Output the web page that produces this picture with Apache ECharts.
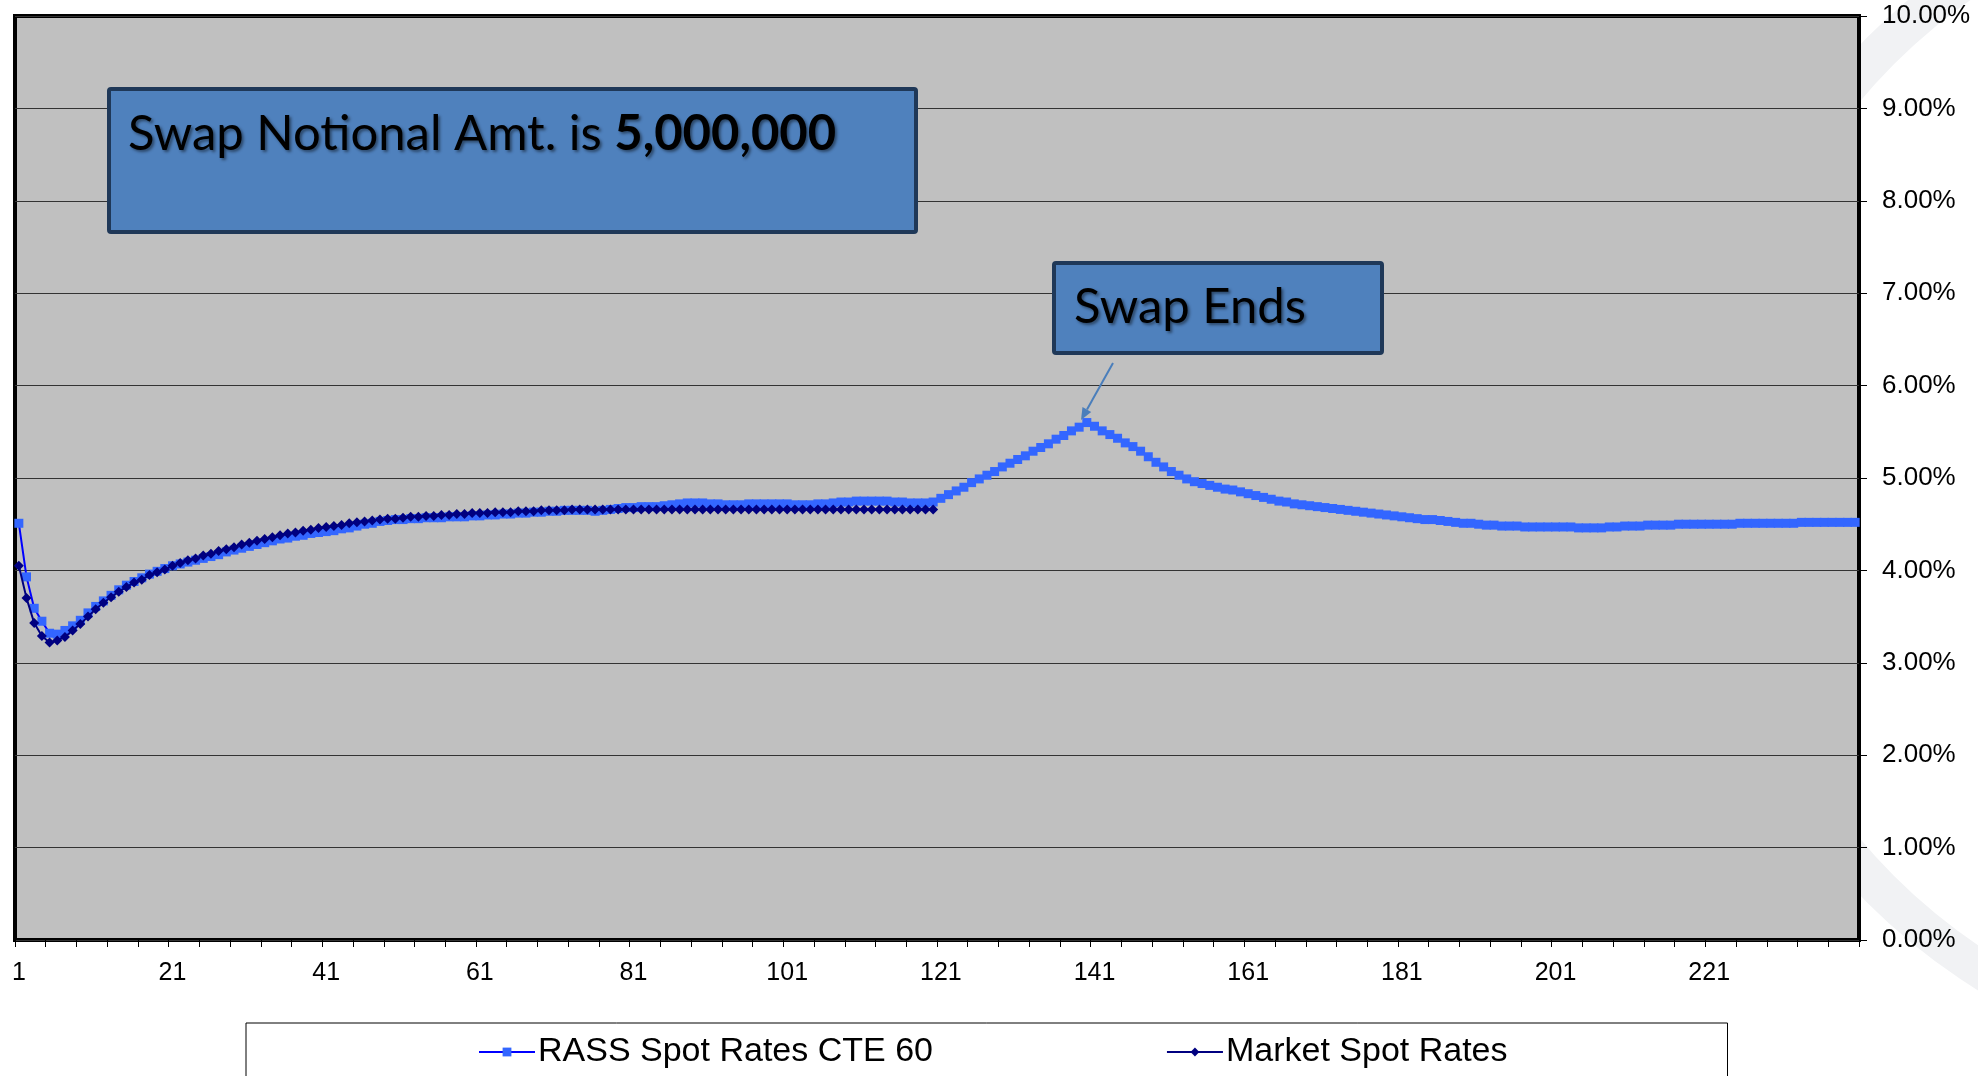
<!DOCTYPE html>
<html>
<head>
<meta charset="utf-8">
<script src="https://cdn.jsdelivr.net/npm/echarts@6/dist/echarts.min.js"></script>
<style>
  html, body { margin: 0; padding: 0; background: #fff; }
  #chart { width: 1978px; height: 1076px; }
</style>
</head>
<body>
<div id="chart"></div>
<script>
// month index 1..240
const periods = [];
for (let i = 1; i <= 240; i++) periods.push(String(i));

// RASS Spot Rates CTE 60 (%)
const rassRates = [
  4.51, 3.93, 3.59, 3.45, 3.32, 3.31, 3.35, 3.40, 3.46, 3.54,
  3.61, 3.67, 3.73, 3.79, 3.84, 3.88, 3.92, 3.96, 3.99, 4.02,
  4.05, 4.07, 4.09, 4.11, 4.13, 4.15, 4.17, 4.20, 4.22, 4.24,
  4.26, 4.28, 4.30, 4.32, 4.34, 4.35, 4.37, 4.38, 4.40, 4.41,
  4.42, 4.43, 4.45, 4.46, 4.48, 4.50, 4.51, 4.53, 4.54, 4.55,
  4.55, 4.56, 4.56, 4.57, 4.57, 4.57, 4.58, 4.58, 4.58, 4.59,
  4.59, 4.60, 4.60, 4.61, 4.61, 4.62, 4.62, 4.63, 4.63, 4.64,
  4.64, 4.65, 4.65, 4.65, 4.65, 4.64, 4.65, 4.66, 4.67, 4.68,
  4.68, 4.69, 4.69, 4.69, 4.70, 4.71, 4.72, 4.73, 4.73, 4.73,
  4.72, 4.72, 4.71, 4.71, 4.71, 4.72, 4.72, 4.72, 4.72, 4.72,
  4.72, 4.71, 4.71, 4.71, 4.72, 4.72, 4.73, 4.74, 4.74, 4.75,
  4.75, 4.75, 4.75, 4.75, 4.74, 4.74, 4.73, 4.73, 4.73, 4.74,
  4.78, 4.82, 4.86, 4.90, 4.95, 4.99, 5.03, 5.07, 5.12, 5.16,
  5.20, 5.24, 5.29, 5.33, 5.37, 5.42, 5.46, 5.51, 5.55, 5.60,
  5.56, 5.51, 5.47, 5.43, 5.38, 5.34, 5.29, 5.23, 5.17, 5.12,
  5.07, 5.03, 4.99, 4.96, 4.94, 4.92, 4.90, 4.88, 4.87, 4.85,
  4.83, 4.81, 4.79, 4.77, 4.75, 4.74, 4.72, 4.71, 4.70, 4.69,
  4.68, 4.67, 4.66, 4.65, 4.64, 4.63, 4.62, 4.61, 4.60, 4.59,
  4.58, 4.57, 4.56, 4.55, 4.55, 4.54, 4.53, 4.52, 4.51, 4.51,
  4.50, 4.49, 4.49, 4.48, 4.48, 4.48, 4.47, 4.47, 4.47, 4.47,
  4.47, 4.47, 4.47, 4.46, 4.46, 4.46, 4.46, 4.47, 4.47, 4.48,
  4.48, 4.48, 4.49, 4.49, 4.49, 4.49, 4.50, 4.50, 4.50, 4.50,
  4.50, 4.50, 4.50, 4.50, 4.51, 4.51, 4.51, 4.51, 4.51, 4.51,
  4.51, 4.51, 4.52, 4.52, 4.52, 4.52, 4.52, 4.52, 4.52, 4.52
];

// Market Spot Rates (%), only the first 120 months
const marketRates = [
  4.05, 3.70, 3.43, 3.29, 3.22, 3.24, 3.28, 3.35, 3.42, 3.50,
  3.58, 3.65, 3.71, 3.77, 3.82, 3.87, 3.90, 3.95, 3.98, 4.01,
  4.05, 4.08, 4.11, 4.13, 4.16, 4.18, 4.21, 4.23, 4.25, 4.28,
  4.30, 4.32, 4.34, 4.36, 4.38, 4.40, 4.41, 4.43, 4.44, 4.46,
  4.47, 4.48, 4.49, 4.51, 4.52, 4.53, 4.54, 4.55, 4.56, 4.56,
  4.57, 4.58, 4.58, 4.59, 4.59, 4.60, 4.60, 4.61, 4.61, 4.62,
  4.62, 4.62, 4.63, 4.63, 4.63, 4.64, 4.64, 4.64, 4.65, 4.65,
  4.65, 4.65, 4.66, 4.66, 4.66, 4.66, 4.66, 4.66, 4.66, 4.66,
  4.66, 4.66, 4.66, 4.66, 4.66, 4.66, 4.66, 4.66, 4.66, 4.66,
  4.66, 4.66, 4.66, 4.66, 4.66, 4.66, 4.66, 4.66, 4.66, 4.66,
  4.66, 4.66, 4.66, 4.66, 4.66, 4.66, 4.66, 4.66, 4.66, 4.66,
  4.66, 4.66, 4.66, 4.66, 4.66, 4.66, 4.66, 4.66, 4.66, 4.66
];

const seriesNames = ['RASS Spot Rates CTE 60', 'Market Spot Rates'];
const noteText = 'Swap Notional Amt. is ';
const noteAmount = '5,000,000';
const endText = 'Swap Ends';

const myChart = echarts.init(document.getElementById('chart'));

const boxFill = '#4F81BD';
const boxStroke = '#1F3858';
const txtFont = 'Lato, "Open Sans", sans-serif';
const shadow = { textShadowColor: 'rgba(0,0,0,0.45)', textShadowBlur: 3, textShadowOffsetX: 2, textShadowOffsetY: 2 };

const option = {
  animation: false,
  backgroundColor: '#fff',
  grid: {
    left: 15, right: 119, top: 16, bottom: 136,
    show: true,
    backgroundColor: '#C0C0C0',
    borderColor: '#000',
    borderWidth: 4,
    outerBoundsMode: 'none'
  },
  legend: {
    left: 246, top: 1023,
    padding: [12, 220, 40, 232],
    itemGap: 233,
    itemWidth: 56,
    itemHeight: 11,
    borderColor: '#000',
    borderWidth: 1,
    backgroundColor: '#fff',
    textStyle: { fontFamily: 'Arial, "Liberation Sans"', fontSize: 34, color: '#000', padding: [0, 0, 0, -2] },
    data: seriesNames
  },
  xAxis: {
    type: 'category',
    data: periods,
    boundaryGap: true,
    axisLine: { show: false },
    axisTick: { show: true, interval: 3, length: 7, lineStyle: { color: '#000', width: 1 } },
    axisLabel: {
      interval: 19, margin: 21,
      fontFamily: 'Arial, "Liberation Sans"', fontSize: 25, color: '#000'
    },
    splitLine: { show: false }
  },
  yAxis: {
    type: 'value',
    position: 'right',
    min: 0, max: 10, interval: 1,
    axisLine: { show: false },
    axisTick: { show: true, length: 8, lineStyle: { color: '#000', width: 1 } },
    axisLabel: {
      margin: 23,
      fontFamily: 'Arial, "Liberation Sans"', fontSize: 26, color: '#000',
      formatter: v => v.toFixed(2) + '%'
    },
    splitLine: { lineStyle: { color: '#333', width: 1.2 } }
  },
  series: [
    {
      name: seriesNames[0],
      type: 'line',
      data: rassRates,
      symbol: 'rect',
      symbolSize: 9,
      showAllSymbol: true,
      lineStyle: { color: '#0000FF', width: 2 },
      itemStyle: { color: '#3366FF' },
      z: 2
    },
    {
      name: seriesNames[1],
      type: 'line',
      data: marketRates,
      symbol: 'diamond',
      symbolSize: [10, 10],
      showAllSymbol: true,
      lineStyle: { color: '#000080', width: 2 },
      itemStyle: { color: '#000080' },
      z: 3
    }
  ],
  graphic: [
    // faint watermark ring on the right margin
    {
      type: 'ring', z: -5, silent: true,
      shape: { cx: 2300, cy: 470, r: 612, r0: 574 },
      style: { fill: '#F1F2F4' }
    },
    {
      type: 'rect', z: 100,
      shape: { x: 109, y: 89, width: 807, height: 143, r: 2 },
      style: { fill: boxFill, stroke: boxStroke, lineWidth: 4 }
    },
    {
      type: 'text', z: 101, x: 128, y: 134,
      style: {
        text: '{a|' + noteText + '}{b|' + noteAmount + '}',
        verticalAlign: 'middle',
        rich: {
          a: Object.assign({ fontFamily: txtFont, fontSize: 49, color: '#000' }, shadow),
          b: Object.assign({ fontFamily: txtFont, fontSize: 49, fontWeight: 'bold', color: '#000' }, shadow)
        }
      }
    },
    {
      type: 'rect', z: 100,
      shape: { x: 1054, y: 263, width: 328, height: 90, r: 2 },
      style: { fill: boxFill, stroke: boxStroke, lineWidth: 4 }
    },
    {
      type: 'text', z: 101, x: 1074, y: 307,
      style: Object.assign({
        text: endText, fontFamily: txtFont, fontSize: 49, fill: '#000',
        verticalAlign: 'middle'
      }, shadow)
    },
    {
      type: 'line', z: 100,
      shape: { x1: 1113, y1: 363, x2: 1087, y2: 409.5 },
      style: { stroke: '#4A7EBB', lineWidth: 2 }
    },
    {
      type: 'polygon', z: 100,
      shape: { points: [[1081, 420], [1091.2, 412], [1082.5, 407.1]] },
      style: { fill: '#4A7EBB' }
    }
  ]
};

myChart.setOption(option);
</script>
</body>
</html>
